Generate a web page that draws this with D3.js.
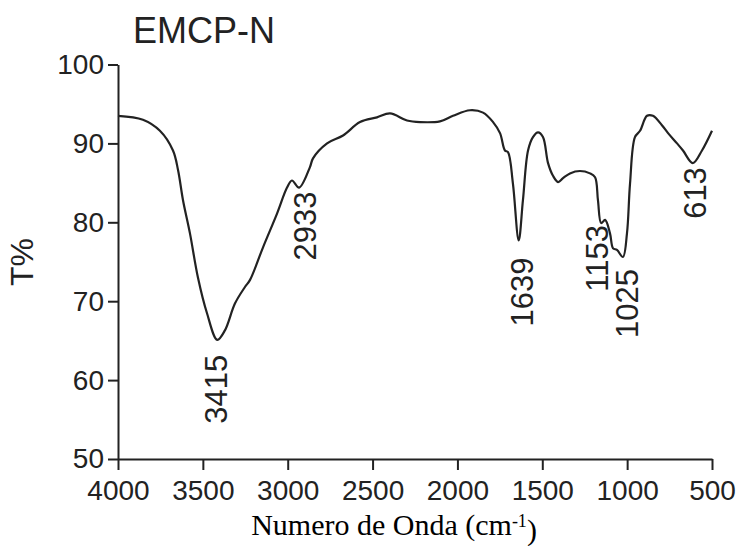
<!DOCTYPE html>
<html>
<head>
<meta charset="utf-8">
<script src="https://cdn.jsdelivr.net/npm/d3@7"></script>
<style>
  body { margin: 0; background: #fff; }
  svg { display: block; }
</style>
</head>
<body>
<div id="chart"></div>
<script>
// FTIR spectrum of EMCP-N
var wavenumbers = [4000, 3853, 3753, 3676, 3646, 3617, 3576, 3529, 3476, 3415,
    3370, 3311, 3252, 3222, 3146, 3063, 3004, 2975, 2933, 2869,
    2851, 2768, 2674, 2574, 2474, 2397, 2297, 2220, 2103, 2026,
    1926, 1849, 1790, 1749, 1720, 1702, 1673, 1639, 1614, 1584,
    1555, 1525, 1496, 1466, 1437, 1407, 1378, 1337, 1278, 1219,
    1189, 1172, 1153, 1130, 1101, 1083, 1060, 1025, 1001, 983,
    954, 924, 883, 848, 795, 759, 706, 671, 613, 559, 500];
var transmittance = [93.5, 93.0, 91.6, 89.1, 86.6, 82.8, 78.6, 73.0, 68.5, 65.1,
    66.3, 69.7, 71.8, 72.7, 76.8, 81.1, 84.4, 85.3, 84.4, 87.0,
    88.1, 90.0, 91.0, 92.7, 93.3, 93.8, 92.9, 92.7, 92.8, 93.5,
    94.2, 93.9, 92.7, 91.3, 89.1, 88.9, 84.9, 77.7, 82.8, 89.1,
    90.8, 91.4, 90.8, 87.5, 85.9, 85.1, 85.6, 86.2, 86.5, 86.2,
    85.7, 82.8, 79.9, 80.3, 78.6, 76.7, 76.5, 75.6, 78.6, 84.9,
    90.8, 91.6, 93.5, 93.5, 92.3, 91.3, 90.0, 89.1, 87.5, 89.1, 91.6];

var peaks = [3415, 2933, 1639, 1153, 1025, 613];
var xTicks = [4000, 3500, 3000, 2500, 2000, 1500, 1000, 500];
var yTicks = [50, 60, 70, 80, 90, 100];

var width = 739;
var height = 546;
var margin = {top: 64.5, right: 27, bottom: 87, left: 118};
var ink = "#222";

var svg = d3.select("#chart")
    .append("svg")
    .attr("width", width)
    .attr("height", height);

var x = d3.scaleLinear()
    .domain([4000, 500])
    .range([margin.left, width - margin.right]);

var y = d3.scaleLinear()
    .domain([50, 100])
    .range([height - margin.bottom, margin.top]);

// axes
var xAxis = d3.axisBottom(x)
    .tickValues(xTicks)
    .tickFormat(d3.format("d"))
    .tickSize(11)
    .tickSizeOuter(0)
    .tickPadding(10);

var yAxis = d3.axisLeft(y)
    .tickValues(yTicks)
    .tickFormat(d3.format("d"))
    .tickSize(10)
    .tickSizeOuter(0)
    .tickPadding(4);

var gx = svg.append("g")
    .attr("transform", "translate(0," + (height - margin.bottom) + ")")
    .call(xAxis);

var gy = svg.append("g")
    .attr("transform", "translate(" + margin.left + ",0)")
    .call(yAxis);

[gx, gy].forEach(function (g) {
    g.selectAll("path, line")
        .attr("stroke", ink)
        .attr("stroke-width", 2);
    g.selectAll("text")
        .attr("fill", ink)
        .style("font-family", "'Liberation Sans', Arial, sans-serif")
        .style("font-size", "28px");
});

// spectrum line
var points = wavenumbers.map(function (w, i) {
    return {w: w, t: transmittance[i]};
});

var line = d3.line()
    .x(function (d) { return x(d.w); })
    .y(function (d) { return y(d.t); })
    .curve(d3.curveCatmullRom.alpha(0.5));

svg.append("path")
    .datum(points)
    .attr("d", line)
    .attr("fill", "none")
    .attr("stroke", ink)
    .attr("stroke-width", 2.2)
    .attr("stroke-linejoin", "round");

// peak labels, rotated, placed just below each minimum
// small nudges so the crowded 1153/1025 pair sits like the original
var nudge = {3415: [-1, 3], 2933: [6, -8], 1639: [3, 5], 1153: [-4, -10], 1025: [4, 0], 613: [2, -8]};

peaks.forEach(function (p) {
    var i = wavenumbers.indexOf(p);
    var px = x(p) + nudge[p][0];
    var py = y(transmittance[i]) + 12 + nudge[p][1];
    svg.append("text")
        .attr("transform", "translate(" + px + "," + py + ") rotate(-90)")
        .attr("text-anchor", "end")
        .attr("dy", "0.36em")
        .attr("fill", ink)
        .style("font-family", "'Liberation Sans', Arial, sans-serif")
        .style("font-size", "31px")
        .text(p);
});

// title
svg.append("text")
    .attr("x", 133)
    .attr("y", 43)
    .attr("fill", ink)
    .style("font-family", "'Liberation Sans', Arial, sans-serif")
    .style("font-size", "36px")
    .text("EMCP-N");

// y label
svg.append("text")
    .attr("transform", "translate(33,262) rotate(-90)")
    .attr("text-anchor", "middle")
    .attr("fill", ink)
    .style("font-family", "'Liberation Sans', Arial, sans-serif")
    .style("font-size", "32px")
    .text("T%");

// x label
var xl = svg.append("text")
    .attr("x", 394)
    .attr("y", 535)
    .attr("text-anchor", "middle")
    .attr("fill", "#000")
    .style("font-family", "'Liberation Serif', 'Times New Roman', serif")
    .style("font-size", "30px");
xl.append("tspan").text("Numero de Onda (cm");
xl.append("tspan").attr("dy", "-0.45em").style("font-size", "18px").text("-1");
xl.append("tspan").attr("dy", "0.45em").text(")");
</script>
</body>
</html>
